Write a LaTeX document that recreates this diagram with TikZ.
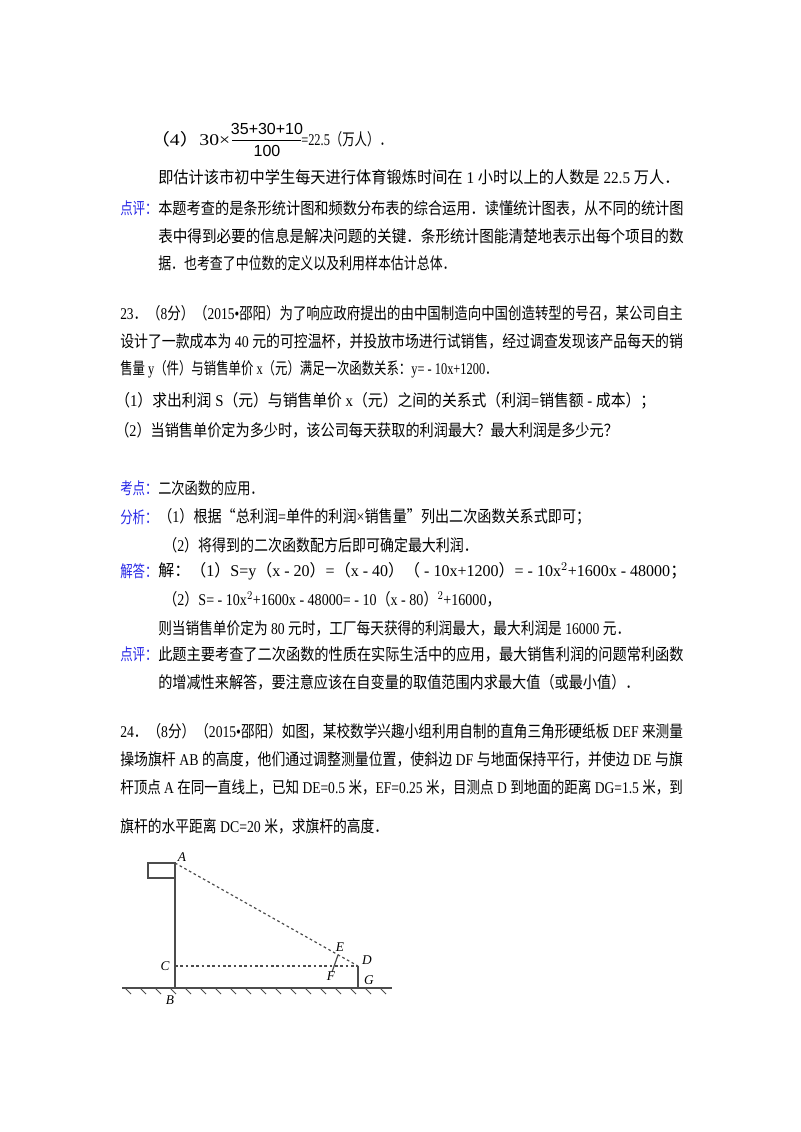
\documentclass[tikz,border=0pt]{standalone}
\usepackage{fontspec}
\setmainfont{Liberation Serif}
\newfontfamily\cjk{Noto Sans CJK SC}
\newfontfamily\arl{Liberation Sans}
\XeTeXinterchartokenstate=1
\newXeTeXintercharclass\CJKcls
\newcount\mycnt
\def\setcls#1#2{\mycnt=#1 \loop \XeTeXcharclass\mycnt=\CJKcls \ifnum\mycnt<#2 \advance\mycnt 1 \repeat}
\setcls{"4E00}{"9FFF}
\setcls{"3000}{"303F}
\setcls{"FF00}{"FFEF}
\setcls{"FE50}{"FE6F}
\setcls{"201C}{"201D}
\XeTeXinterchartoks 0 \CJKcls = {\begingroup\cjk}
\XeTeXinterchartoks 4095 \CJKcls = {\begingroup\cjk}
\XeTeXinterchartoks \CJKcls 0 = {\endgroup}
\XeTeXinterchartoks \CJKcls 4095 = {\endgroup}
\definecolor{lbl}{RGB}{40,40,230}
\newcommand{\fitw}[2]{\resizebox{#1}{\height}{#2}}
\begin{document}
\begin{tikzpicture}[x=0.75pt,y=-0.75pt,
 t/.style={anchor=west,inner sep=0pt,font=\fontsize{12.3}{15}\selectfont},
 lab/.style={inner sep=0pt,font=\fontsize{10}{12}\selectfont\itshape},
 fig/.style={gray!60!black,line width=0.9pt}]
\useasboundingbox (0,0) rectangle (800,1132);
% part (4)
\node[t] (l1) at (150,139) {\fitw{60pt}{（4）30×}};
\node[inner sep=0pt,font=\arl\fontsize{12}{14}\selectfont] (num) at (267,129) {35+30+10};
\node[inner sep=0pt,font=\arl\fontsize{12}{14}\selectfont] (den) at (267,151) {100};
\draw (232,140) -- (301,140);
\node[t] (l1b) at (301,139) {\fitw{68pt}{=22.5（万人）．}};
\node[t] (l2) at (158,177) {\fitw{391pt}{即估计该市初中学生每天进行体育锻炼时间在 1 小时以上的人数是 22.5 万人．}};
\node[t,text=lbl] (p1) at (120,208) {\fitw{28pt}{点评：}};
\node[t] (l3) at (158,208) {\fitw{394pt}{本题考查的是条形统计图和频数分布表的综合运用．读懂统计图表，从不同的统计图}};
\node[t] (l4) at (158,236) {\fitw{394pt}{表中得到必要的信息是解决问题的关键．条形统计图能清楚地表示出每个项目的数}};
\node[t] (l5) at (158,263) {\fitw{223pt}{据．也考查了中位数的定义以及利用样本估计总体．}};
% 23
\node[t] (q1) at (120,313) {\fitw{422pt}{23．（8分）（2015•邵阳）为了响应政府提出的由中国制造向中国创造转型的号召，某公司自主}};
\node[t] (q2) at (120,341) {\fitw{422pt}{设计了一款成本为 40 元的可控温杯，并投放市场进行试销售，经过调查发现该产品每天的销}};
\node[t] (q3) at (120,369) {\fitw{283pt}{售量 y（件）与销售单价 x（元）满足一次函数关系：y= - 10x+1200．}};
\node[t] (q4) at (115,401) {\fitw{405pt}{（1）求出利润 S（元）与销售单价 x（元）之间的关系式（利润=销售额 - 成本）；}};
\node[t] (q5) at (115,430) {\fitw{377pt}{（2）当销售单价定为多少时，该公司每天获取的利润最大？最大利润是多少元？}};
\node[t,text=lbl] (k1) at (120,488) {\fitw{28pt}{考点：}};
\node[t] (k2) at (158,488) {\fitw{79pt}{二次函数的应用．}};
\node[t,text=lbl] (f1) at (120,517) {\fitw{28pt}{分析：}};
\node[t] (f2) at (158,517) {\fitw{324pt}{（1）根据“总利润=单件的利润×销售量”列出二次函数关系式即可；}};
\node[t] (f3) at (163,545) {\fitw{236pt}{（2）将得到的二次函数配方后即可确定最大利润．}};
\node[t,text=lbl] (j1) at (120,571) {\fitw{28pt}{解答：}};
\node[t] (j2) at (158,571) {\fitw{396pt}{解：（1）S=y（x - 20）=（x - 40）（ - 10x+1200）= - 10x$^2$+1600x - 48000；}};
\node[t] (j3) at (163,599) {\fitw{253pt}{（2）S= - 10x$^2$+1600x - 48000= - 10（x - 80）$^2$+16000，}};
\node[t] (j4) at (158,628) {\fitw{354pt}{则当销售单价定为 80 元时，工厂每天获得的利润最大，最大利润是 16000 元．}};
\node[t,text=lbl] (d1) at (120,654) {\fitw{28pt}{点评：}};
\node[t] (d2) at (158,654) {\fitw{394pt}{此题主要考查了二次函数的性质在实际生活中的应用，最大销售利润的问题常利函数}};
\node[t] (d3) at (158,682) {\fitw{361pt}{的增减性来解答，要注意应该在自变量的取值范围内求最大值（或最小值）．}};
% 24
\node[t] (r1) at (120,731) {\fitw{422pt}{24．（8分）（2015•邵阳）如图，某校数学兴趣小组利用自制的直角三角形硬纸板 DEF 来测量}};
\node[t] (r2) at (120,759) {\fitw{422pt}{操场旗杆 AB 的高度，他们通过调整测量位置，使斜边 DF 与地面保持平行，并使边 DE 与旗}};
\node[t] (r3) at (120,787) {\fitw{422pt}{杆顶点 A 在同一直线上，已知 DE=0.5 米，EF=0.25 米，目测点 D 到地面的距离 DG=1.5 米，到}};
\node[t] (r4) at (120,826) {\fitw{201pt}{旗杆的水平距离 DC=20 米，求旗杆的高度．}};
% figure
\coordinate (A) at (175,863);
\coordinate (B) at (175,988);
\coordinate (C) at (175,966);
\coordinate (D) at (358,966);
\coordinate (G) at (358,988);
\coordinate (E) at (338,955);
\coordinate (F) at (332,972);
\coordinate (gl) at (122,988);
\coordinate (gr) at (392,988);
\draw[fig] (gl) -- (gr);
\foreach \i in {0,...,17} \draw[fig,line width=0.7pt] (125+15*\i,988) -- ++(6,6);
\draw[fig] (A) -- (B);
\draw[fig] (148,863) rectangle (175,878);
\draw[fig] (D) -- (G);
\draw[fig,dashed,dash pattern=on 2pt off 2pt] (A) -- (D);
\draw[fig,dashed,dash pattern=on 2pt off 2pt] (C) -- (D);
\draw[fig] (E) -- (F);
\node[lab] (lA) at (182,857) {A};
\node[lab] (lB) at (170,1000) {B};
\node[lab] (lC) at (165,966) {C};
\node[lab] (lD) at (367,960) {D};
\node[lab] (lE) at (340,947) {E};
\node[lab] (lF) at (331,976) {F};
\node[lab] (lG) at (369,980) {G};
\end{tikzpicture}
\end{document}
